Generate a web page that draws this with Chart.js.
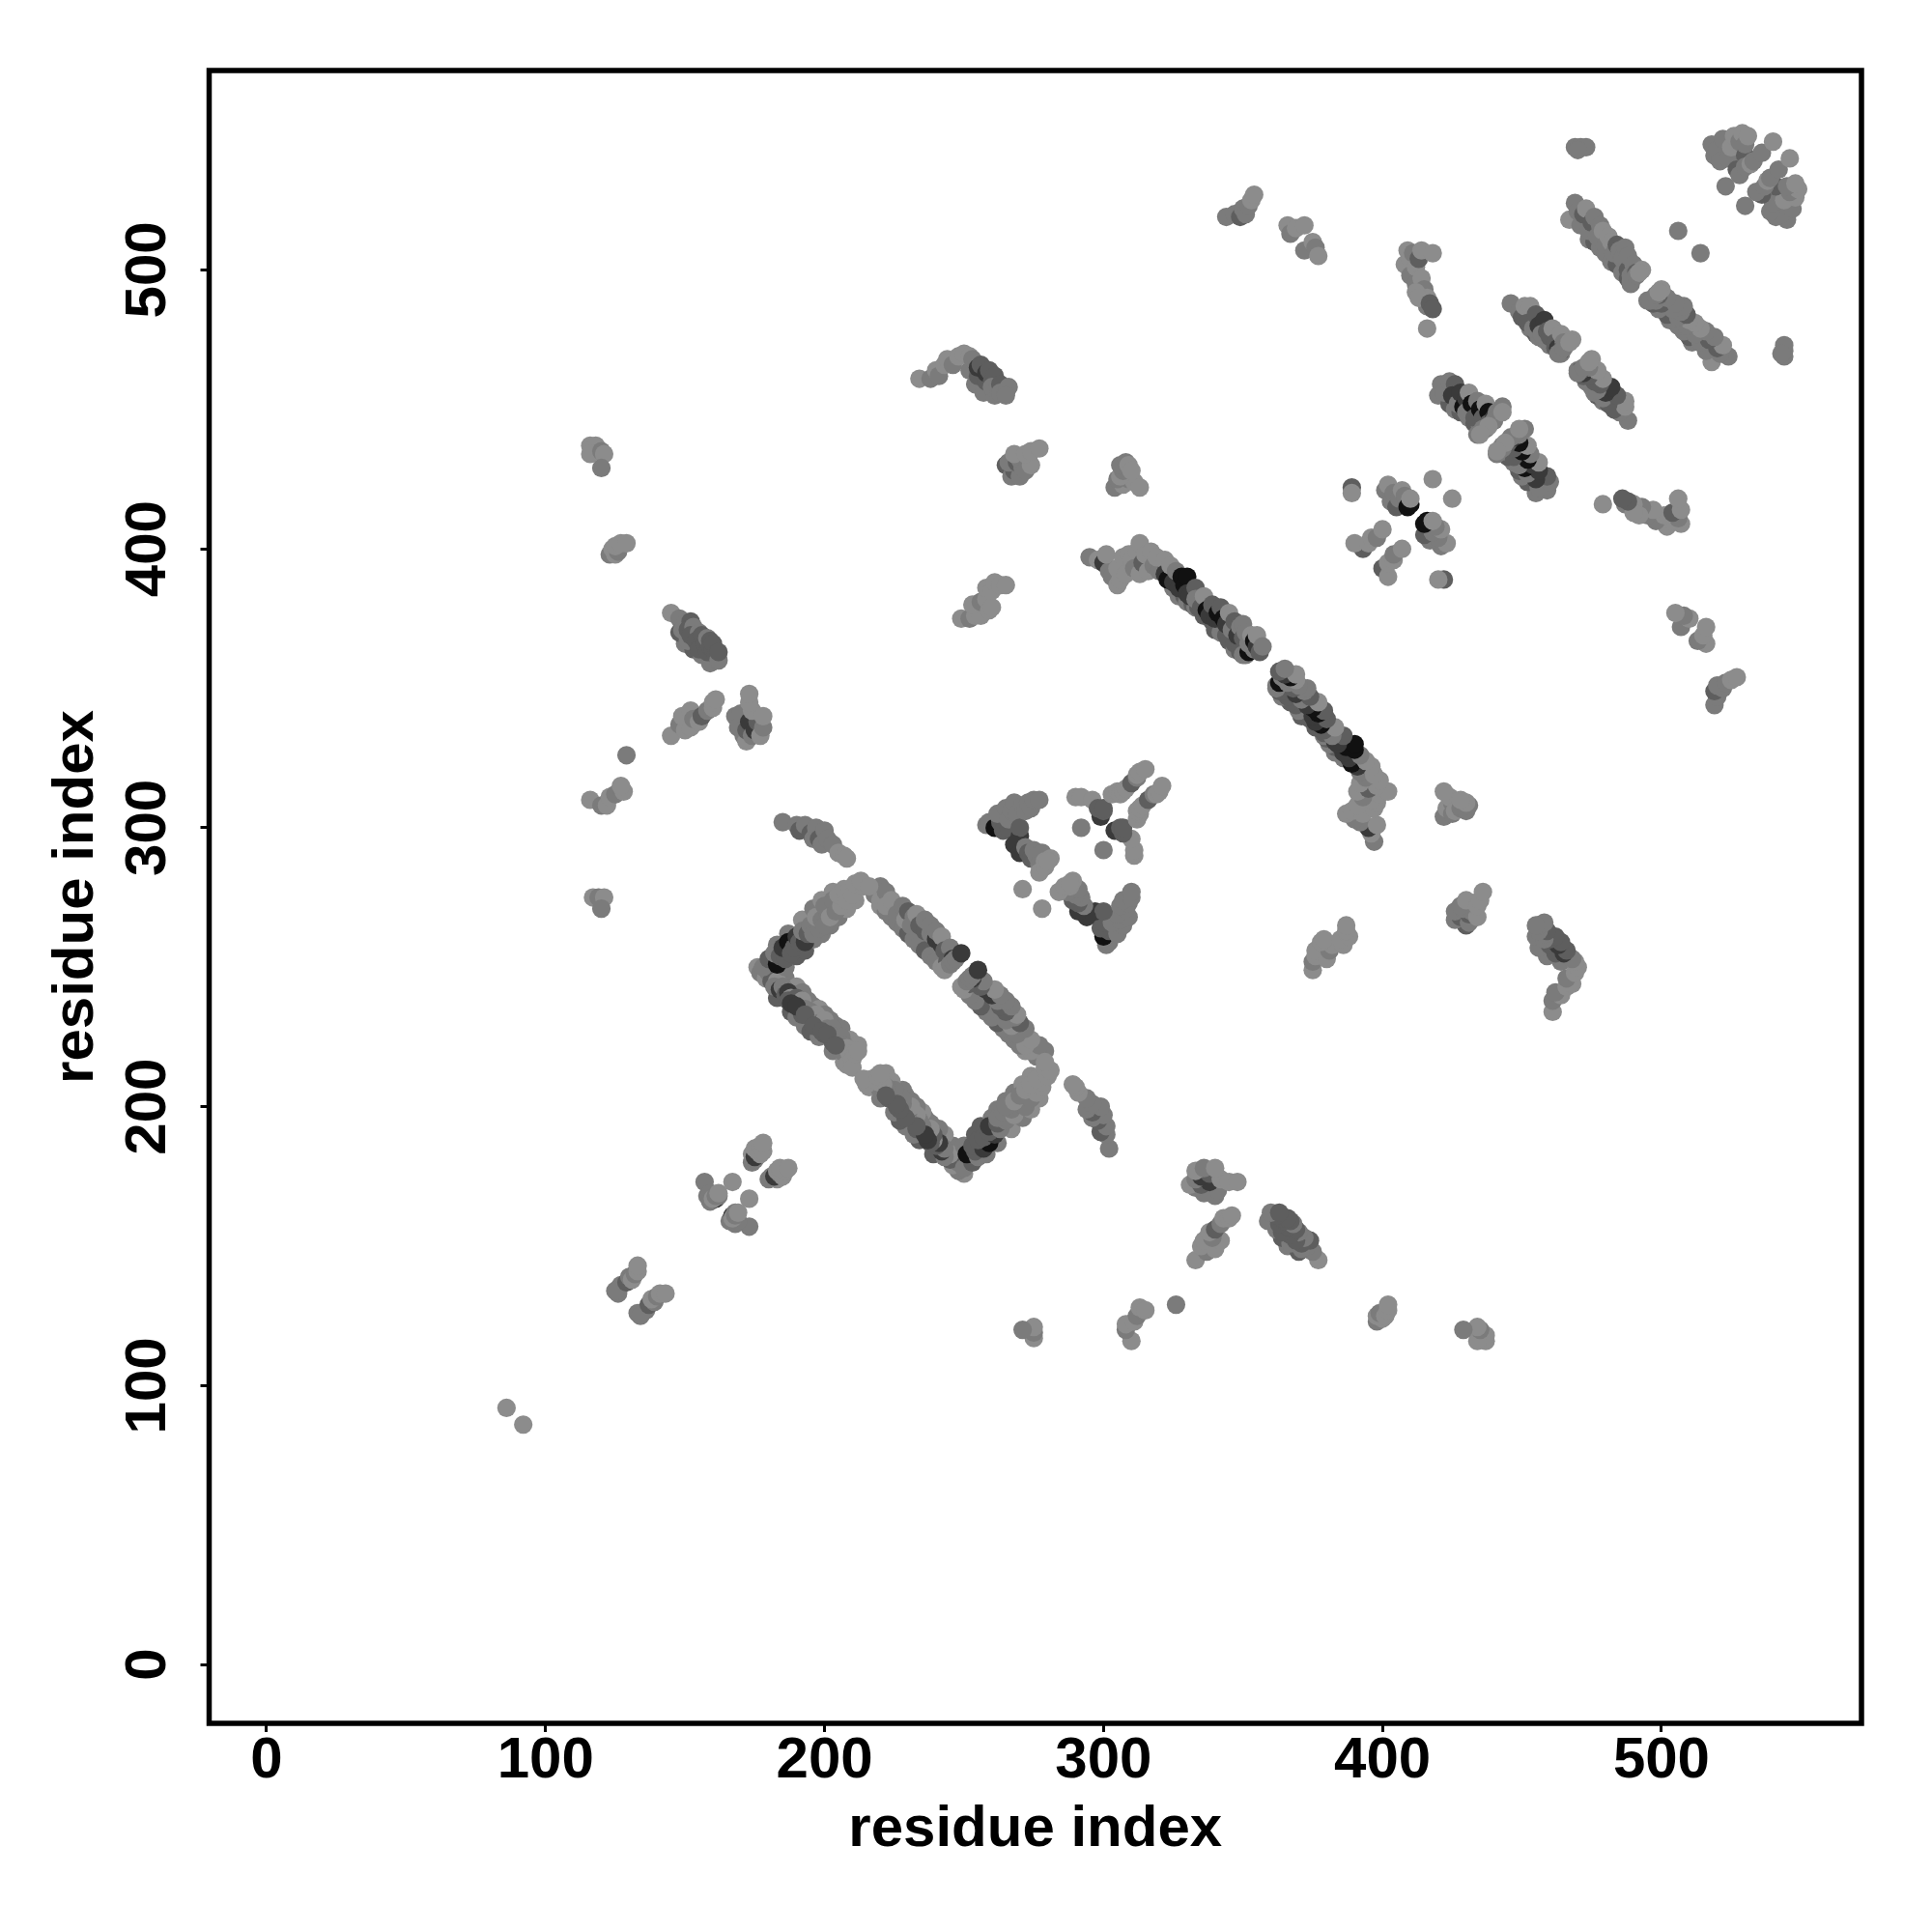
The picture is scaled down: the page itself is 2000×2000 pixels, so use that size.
<!DOCTYPE html>
<html>
<head>
<meta charset="utf-8">
<style>html,body{margin:0;padding:0;background:#fff}canvas{display:block}</style>
<script src="https://cdn.jsdelivr.net/npm/chart.js@4/dist/chart.umd.min.js"></script>
</head>
<body>
<canvas id="c" width="2000" height="2000"></canvas>
<script>
// Contacts as [residue i, residue j, shade level], i < j.
// The contact map is symmetric, so each contact is also plotted as (j, i).
const isolated = [[86,92,0],[157,173,1],[167,173,0],[292,300,1],[271,278,0],[418,425,0],[416,479,0],[506,514,1],[129,326,1]];
const strandBRows = [[183,239,2],[188,234,2],[190,232,1],[193,229,1],[195,227,2],[198,225,1],[203,220,1],[207,216,0],[186,246,1],[190,243,0],[192,241,1],[194,238,1],[196,236,1],[198,235,0],[200,233,1],[202,231,1],[204,229,1],[206,228,1],[209,224,0],[212,222,0]];
const strandB = [[176,250,0],[177,248,1],[179,246,0],[180,248,1],[181,245,2],[183,245,0],[182,243,1],[184,242,3],[185,243,1],[186,240,2],[187,241,3],[188,239,0],[187,238,2],[189,237,3],[190,239,2],[191,236,2],[192,238,0],[193,235,1],[192,233,2],[194,233,0],[195,234,1],[196,232,2],[197,233,0],[198,230,1],[197,229,2],[199,230,2],[200,231,0],[201,228,1],[200,226,2],[202,227,1],[203,228,1],[204,225,1],[203,223,2],[205,224,1],[206,225,1],[207,222,1],[206,220,1],[208,221,0],[209,219,0],[208,215,0],[210,217,0],[210,214,0],[211,219,0],[212,220,0]];
const strandBAccents = [[188,237,3],[190,236,3],[193,233,2],[196,229,2],[199,227,2],[201,226,2],[204,222,2]];
const strandARows = [[220,272,0],[222,270,1],[224,268,1],[226,266,1],[228,264,1],[230,262,2],[232,260,1],[234,258,1],[236,256,2],[238,254,1],[240,252,1],[242,250,0]];
const strandA = [[218,276,1],[220,279,1],[220,274,0],[222,277,1],[222,272,0],[224,274,0],[226,269,1],[228,272,1],[229,267,0],[230,270,2],[232,268,1],[231,265,1],[233,269,0],[234,265,2],[236,263,2],[236,267,1],[238,262,1],[238,265,1],[240,260,3],[240,263,1],[242,258,3],[242,261,0],[243,256,2],[245,257,1],[244,252,2],[246,253,3],[243,249,0],[245,251,1],[246,252,1],[247,253,1],[249,255,3]];
const strandCRows = [[186,250,1],[190,254,2],[193,256,2],[196,260,1],[199,262,1],[202,265,1],[205,268,1],[208,271,0],[211,274,0],[183,258,1],[187,262,1],[192,267,0],[196,271,1],[199,274,0],[203,277,0]];
const strandC = [[178,250,1],[180,253,2],[183,251,4],[182,255,1],[184,254,2],[186,253,2],[185,257,3],[187,259,4],[188,255,2],[189,257,2],[190,261,3],[191,259,2],[193,259,3],[192,263,1],[194,262,2],[195,265,1],[196,262,1],[198,264,1],[197,268,0],[199,267,1],[200,265,1],[201,270,1],[200,272,1],[202,268,0],[204,270,1],[203,274,1],[206,272,0],[205,276,0],[208,274,0],[207,278,0],[209,278,0],[210,276,0],[211,280,0],[214,279,0],[213,281,0],[216,279,0]];
const pairBelowRect = [[185,302,1],[190,301,1],[191,299,2],[193,301,1],[195,298,2],[196,296,1],[197,300,1],[198,296,2],[199,294,1],[200,299,1],[201,296,1],[203,294,1],[205,291,0],[207,290,0],[208,289,0]];
const leftEnd1 = [[116,437,0],[118,437,0],[116,434,0],[120,435,1],[121,434,0],[120,429,1]];
const leftEnd2 = [[123,398,1],[125,398,0],[124,400,0],[126,399,1],[125,401,0],[127,402,0],[129,402,0]];
const leftEnd3 = [[116,310,0],[120,308,1],[122,308,0],[123,311,0],[125,312,1],[127,314,1],[128,313,0],[127,315,0]];
const leftEnd4 = [[117,275,0],[119,275,1],[121,275,0],[120,271,1]];
const upperSheet1 = [[150,366,1],[153,364,2],[156,362,1],[159,359,1],[145,377,0],[148,375,1],[148,370,2],[150,373,1],[149,371,1],[152,374,2],[151,367,1],[151,371,2],[153,372,1],[152,369,2],[155,370,1],[154,367,2],[155,364,2],[156,369,2],[157,366,2],[158,368,1],[158,363,2],[159,367,2],[159,365,2],[160,364,2],[160,366,2],[161,362,2],[162,360,1],[162,363,2]];
const upperSheet2 = [[145,333,0],[148,337,1],[150,335,0],[149,340,0],[152,336,0],[152,342,0],[153,339,1],[155,338,0],[156,340,2],[158,342,1],[160,343,0],[160,345,0],[161,346,0]];
const upperSheet3 = [[168,340,1],[169,336,1],[170,341,1],[171,333,1],[172,331,0],[172,335,2],[173,338,3],[174,333,1],[175,335,3],[176,338,2],[174,342,0],[173,345,0],[173,348,0],[177,333,0],[178,336,1],[178,340,0]];
const nearDiag1 = [[158,168,1],[159,169,1],[159,166,1],[161,167,3],[162,168,1],[160,167,0],[161,168,1],[162,169,0]];
const nearDiag2 = [[174,180,1],[174,183,0],[175,181,1],[175,182,3],[176,184,1],[177,183,0],[175,185,0],[177,186,0],[178,184,0],[178,187,0]];
const nearDiag3 = [[126,133,1],[127,136,1],[125,134,1],[129,137,2],[130,139,1],[131,138,0],[132,140,1],[133,141,0],[133,143,0]];
const hairpin1 = [[252,464,1],[254,459,1],[257,456,1],[261,455,1],[234,461,0],[238,461,1],[240,464,0],[241,462,1],[243,466,0],[244,468,0],[246,466,1],[248,469,0],[250,470,0],[252,469,0],[253,468,1],[255,462,2],[255,465,3],[256,466,2],[258,460,2],[258,463,3],[259,464,2],[260,460,2],[261,462,2],[260,458,1],[262,458,1],[263,459,2],[263,456,1],[265,456,1],[266,458,1],[265,455,1]];
const hairpin2 = [[265,430,2],[267,426,1],[268,428,2],[270,426,1],[266,431,1],[269,431,2],[271,429,1],[270,432,1],[272,428,1],[268,434,0],[273,432,1],[274,430,0],[272,434,0],[274,435,0],[277,436,0]];
const hairpin3 = [[304,422,1],[307,423,0],[309,425,1],[311,424,0],[313,422,0],[305,425,1],[306,426,0],[307,428,1],[306,430,1],[308,431,1],[309,430,0],[310,428,0]];
const hairpin4 = [[249,375,0],[252,375,1],[254,376,0],[256,376,0],[253,380,0],[256,381,1],[258,382,0],[259,378,0],[260,379,0],[258,386,0],[260,385,0],[261,388,0],[263,387,0],[265,387,0]];
const triangleLeft = [[258,301,1],[259,302,1],[261,300,4],[263,302,2],[264,299,2],[262,305,1],[266,300,2],[265,307,1],[266,303,1],[267,306,1],[268,309,1],[269,305,1],[270,297,3],[270,300,2],[271,308,1],[272,306,1],[273,309,1],[274,307,1],[275,310,1],[277,310,1],[268,294,3],[270,291,3],[272,293,1],[273,291,2],[274,289,2],[275,292,1],[276,290,1],[277,287,1],[278,291,1],[279,288,0],[277,284,0],[279,286,0],[281,289,0],[280,288,0]];
const triangleRight = [[290,311,0],[292,311,0],[296,310,0],[299,304,3],[300,306,2],[298,307,2],[300,307,2],[303,312,0],[305,313,0],[306,312,0],[307,313,0],[308,314,0],[310,316,2],[312,318,1],[312,319,0],[313,320,0],[315,321,0]];
const mainLower = [[325,386,1],[327,383,1],[329,383,2],[330,381,1],[332,380,2],[333,379,1],[334,379,2],[336,376,2],[337,376,2],[339,374,2],[340,371,2],[342,370,1],[344,369,2],[345,367,2],[347,364,1],[347,366,2],[349,363,2],[349,365,2],[350,362,1],[351,362,1],[352,363,4],[354,364,1]];
const mainHeader = [[295,397,1],[298,396,0],[300,395,3],[302,392,1],[301,398,0],[303,390,1],[305,387,0],[306,389,0],[305,393,0],[307,397,0],[309,398,0],[308,391,0],[310,396,0],[312,399,0],[313,402,0],[311,393,1],[313,391,0],[314,395,2],[315,398,0],[316,392,0],[317,399,0],[318,394,1],[320,392,1],[319,397,0],[322,396,0]];
const mainStrand = [[322,391,3],[323,389,4],[324,394,0],[325,388,3],[326,392,1],[327,386,3],[328,390,4],[329,387,4],[330,390,4],[330,384,3],[331,383,3],[333,386,2],[333,382,1],[335,379,2],[336,383,0],[337,378,4],[338,376,3],[339,380,2],[340,375,3],[341,377,4],[342,379,2],[343,375,4],[344,373,3],[345,377,0],[346,371,1],[347,374,2],[348,369,3],[349,372,1],[350,368,2],[350,373,1],[351,370,1],[352,366,1],[353,369,0],[354,367,4],[355,365,3],[355,369,0],[356,363,2],[357,365,1]];
const crossCluster = [[389,422,2],[389,420,0],[393,400,2],[390,402,0],[395,402,0],[396,404,0],[398,404,1],[400,407,0],[401,421,1],[402,423,0],[403,417,1],[404,420,1],[405,415,2],[406,418,1],[407,421,0],[408,419,1],[409,415,4],[410,416,4],[410,418,0]];
const farCluster = [[408,502,0],[409,507,0],[410,504,0],[410,498,1],[411,506,1],[412,501,0],[413,504,2],[412,495,1],[414,507,0],[414,497,0],[415,493,1],[412,492,0],[416,490,0],[416,487,1],[413,490,0],[417,488,2],[418,486,2],[418,506,0]];
const topGroup1 = [[344,519,1],[347,520,1],[349,519,2],[350,522,1],[351,520,1],[352,523,1],[353,525,0],[354,527,0]];
const topGroup2 = [[366,516,0],[367,513,1],[369,515,0],[372,516,0]];
const topGroup3 = [[372,507,1],[375,510,0],[376,508,1],[377,505,0]];
const topGroup4 = [[469,544,1],[471,544,1],[473,544,1],[470,543,1]];
const helixGRows = [[420,455,1],[424,452,2],[426,450,1],[428,449,2],[431,447,1],[433,445,2],[435,444,1],[437,443,1]];
const helixG = [[421,459,1],[422,456,1],[424,460,1],[426,459,2],[425,455,3],[427,452,1],[428,456,3],[429,451,4],[430,454,3],[431,456,0],[430,449,1],[432,452,4],[433,447,2],[434,453,1],[435,450,4],[436,447,2],[437,452,0],[438,449,4],[438,445,2],[436,443,1],[440,447,3],[441,449,1],[440,446,1],[443,451,1],[443,449,0],[438,444,0],[434,441,1],[435,441,0]];
const helixFRows = [[453,479,1],[455,477,2],[456,476,1],[458,475,1],[460,473,1],[462,472,2],[464,470,1]];
const helixF = [[446,488,1],[449,485,1],[450,483,2],[451,487,0],[453,487,0],[452,481,2],[454,479,1],[455,484,2],[456,480,3],[458,482,3],[457,477,1],[459,478,2],[460,476,2],[461,479,0],[462,474,2],[463,472,3],[464,477,0],[465,474,1],[464,471,2],[463,470,1],[465,472,1],[468,475,0],[467,474,0]];
const helixERows = [[474,511,1],[476,510,2],[478,508,1],[480,506,1],[482,503,1],[484,502,2],[486,499,1],[488,497,2],[489,495,1]];
const helixE = [[467,518,0],[469,524,1],[470,521,1],[471,516,1],[472,520,2],[473,522,0],[474,514,1],[475,517,2],[476,519,1],[477,512,1],[478,516,1],[479,514,0],[480,509,1],[481,512,0],[482,510,0],[483,506,1],[484,509,2],[485,507,1],[486,504,1],[487,508,1],[488,500,2],[488,505,1],[489,498,1],[490,502,1],[491,499,2],[489,496,1],[491,498,1],[493,500,0],[492,499,0]];
const cornerCluster = [[518,545,1],[519,541,1],[520,543,1],[522,547,1],[521,539,1],[523,530,1],[524,540,1],[525,544,0],[526,548,0],[527,536,2],[528,546,1],[530,541,2],[528,534,1],[530,537,1],[529,549,0],[530,545,1],[531,548,0],[532,538,0],[533,539,1],[536,542,1],[540,546,0]];

const shadeColors = ['#8c8c8c','#7b7b7b','#5e5e5e','#3a3a3a','#111111'];
const tickValues = [0,100,200,300,400,500];
const axisTitle = 'residue index';

const contacts = [].concat(mainLower, mainHeader, mainStrand, strandBRows, strandB, strandBAccents, strandARows, strandA, strandCRows, strandC, pairBelowRect, isolated,
  leftEnd1, leftEnd2, leftEnd3, leftEnd4, upperSheet1, upperSheet2, upperSheet3, nearDiag1, nearDiag2, nearDiag3,
  hairpin1, hairpin2, hairpin3, hairpin4, triangleLeft, triangleRight, crossCluster, farCluster,
  topGroup1, topGroup2, topGroup3, topGroup4, helixGRows, helixG, helixFRows, helixF, helixERows, helixE, cornerCluster);
const points = contacts.map(c => ({x:c[0], y:c[1]})).concat(contacts.map(c => ({x:c[1], y:c[0]})));
const colors = contacts.concat(contacts).map(c => shadeColors[c[2]]);

const FONT = {family:'"Liberation Sans", Arial, sans-serif', size:60, weight:'bold'};

const frameAndLabels = {
  id:'frameAndLabels',
  beforeDraw(chart){
    const xs = chart.scales.x, ys = chart.scales.y;
    xs.getLabelItems(chart.chartArea).forEach(it => {
      it.textOffset=0; it.options.textAlign='center'; it.options.textBaseline='alphabetic';
      it.options.translation=[it.options.translation[0],1840];
    });
    ys.getLabelItems(chart.chartArea).forEach(it => {
      it.textOffset=0; it.options.textAlign='center'; it.options.textBaseline='alphabetic';
      it.options.translation=[171,it.options.translation[1]];
    });
  },
  afterDatasetsDraw(chart){
    const a = chart.chartArea, g = chart.ctx;
    g.save(); g.strokeStyle='#000'; g.lineWidth=5.5; g.lineJoin='miter';
    g.strokeRect(a.left,a.top,a.right-a.left,a.bottom-a.top); g.restore();
  }
};

new Chart(document.getElementById('c'), {
  type:'scatter',
  data:{datasets:[{label:axisTitle, data:points, pointBackgroundColor:colors, pointBorderWidth:0, pointRadius:9.6, pointHoverRadius:9.6}]},
  options:{
    responsive:false, animation:false, devicePixelRatio:1,
    layout:{padding:{left:0,top:73,right:73,bottom:0}},
    plugins:{legend:{display:false},tooltip:{enabled:false},title:{display:false}},
    scales:{
      x:{type:'linear',min:-20.6,max:571.7,
        afterBuildTicks:s=>{s.ticks=tickValues.map(v=>({value:v}));},
        afterFit:s=>{s.height=216;},
        grid:{display:true,drawOnChartArea:false,drawTicks:true,tickLength:9,tickWidth:3,tickColor:'#000'},
        border:{display:false},
        ticks:{color:'#000',font:FONT,minRotation:0,maxRotation:0,autoSkip:false,padding:0},
        title:{display:true,text:axisTitle,color:'#000',font:FONT,padding:{top:0,bottom:70}}},
      y:{type:'linear',min:-21.1,max:571.5,
        afterBuildTicks:s=>{s.ticks=tickValues.map(v=>({value:v}));},
        afterFit:s=>{s.width=216.5;},
        grid:{display:true,drawOnChartArea:false,drawTicks:true,tickLength:9,tickWidth:3,tickColor:'#000'},
        border:{display:false},
        ticks:{color:'#000',font:FONT,minRotation:90,maxRotation:90,autoSkip:false,padding:0},
        title:{display:true,text:axisTitle,color:'#000',font:FONT,padding:{top:43,bottom:0}}}
    }
  },
  plugins:[frameAndLabels]
});
</script>
</body>
</html>
